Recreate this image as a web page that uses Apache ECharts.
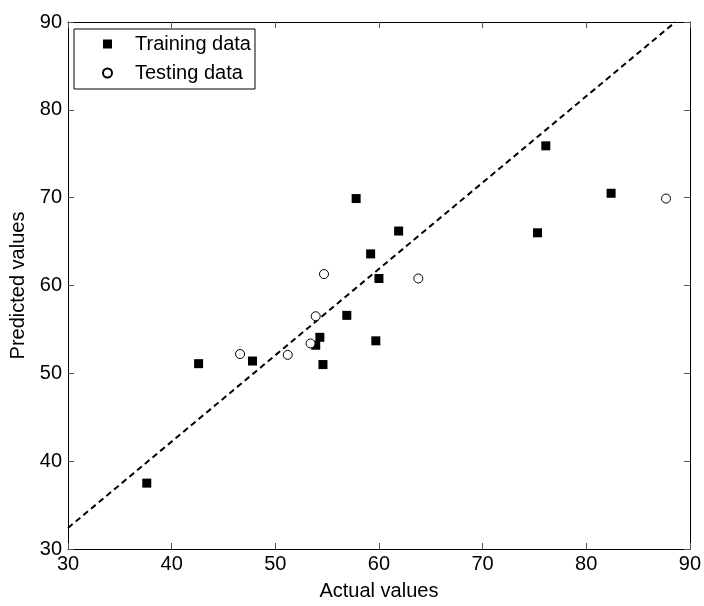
<!DOCTYPE html>
<html><head><meta charset="utf-8">
<script src="https://cdn.jsdelivr.net/npm/echarts@6/dist/echarts.min.js"></script>
<style>html,body{margin:0;padding:0;background:#fff}#c{width:704px;height:606px}</style>
</head><body><div id="c"></div>
<script>
const trainingActual = [37.6, 42.6, 47.8, 53.9, 54.3, 54.6, 56.9, 57.8, 59.2, 59.7, 60.0, 61.9, 75.3, 76.1, 82.4];
const trainingPred   = [37.5, 51.1, 51.4, 53.2, 54.1, 51.0, 56.6, 69.9, 63.6, 53.7, 60.8, 66.2, 66.0, 75.9, 70.5];
const testingActual  = [46.6, 51.2, 53.4, 53.9, 54.7, 63.8, 87.7];
const testingPred    = [52.2, 52.1, 53.4, 56.5, 61.3, 60.8, 69.9];
const fitLineX = [30, 88.6];
const fitLineY = [32.4, 90];
const xTicks = [30, 40, 50, 60, 70, 80, 90];
const yTicks = [30, 40, 50, 60, 70, 80, 90];

const FONT = 'Liberation Sans';
const FS = 20;
const zip = (a, b) => a.map((v, i) => [v, b[i]]);

const chart = echarts.init(document.getElementById('c'), null, {renderer: 'canvas'});
const axisCommon = {
  min: xTicks[0], max: xTicks[xTicks.length - 1], interval: xTicks[1] - xTicks[0],
  axisLine: {show: true, onZero: false, lineStyle: {color: '#000', width: 1}},
  axisTick: {show: true, inside: true, length: 6, lineStyle: {color: '#555'}},
  splitLine: {show: false}
};
chart.setOption({
  animation: false,
  backgroundColor: '#fff',
  textStyle: {fontFamily: FONT},
  grid: {left: 68, right: 14, top: 22, bottom: 48, containLabel: false},
  legend: {
    data: ['Training data', 'Testing data'],
    orient: 'vertical', left: 74, top: 29,
    itemWidth: 9, itemHeight: 9, itemGap: 9,
    padding: [5, 4, 6, 28],
    borderColor: '#000', borderWidth: 1,
    backgroundColor: '#fff',
    textStyle: {fontFamily: FONT, fontSize: FS, color: '#000', padding: [0, 0, 0, 18], lineHeight: 20}
  },
  xAxis: [
    Object.assign({}, axisCommon, {
      type: 'value', position: 'bottom',
      name: 'Actual values', nameLocation: 'middle', nameGap: 32,
      nameTextStyle: {fontFamily: FONT, fontSize: FS, color: '#000'},
      axisLabel: {fontFamily: FONT, fontSize: FS, color: '#000', margin: 5}
    }),
    Object.assign({}, axisCommon, {type: 'value', position: 'top', axisLabel: {show: false}})
  ],
  yAxis: [
    Object.assign({}, axisCommon, {
      type: 'value', position: 'left',
      min: yTicks[0], max: yTicks[yTicks.length - 1], interval: yTicks[1] - yTicks[0],
      name: 'Predicted values', nameLocation: 'middle', nameGap: 38, nameRotate: 90,
      nameTextStyle: {fontFamily: FONT, fontSize: FS, color: '#000'},
      axisLabel: {fontFamily: FONT, fontSize: FS, color: '#000', margin: 6}
    }),
    Object.assign({}, axisCommon, {
      type: 'value', position: 'right',
      min: yTicks[0], max: yTicks[yTicks.length - 1], interval: yTicks[1] - yTicks[0],
      axisLabel: {show: false}
    })
  ],
  series: [
    {
      name: 'Fit', type: 'line', data: zip(fitLineX, fitLineY),
      symbol: 'none', silent: true,
      lineStyle: {color: '#000', width: 2, type: [6, 4]}, z: 1
    },
    {
      name: 'Training data', type: 'scatter', data: zip(trainingActual, trainingPred),
      symbol: 'rect', symbolSize: 9,
      itemStyle: {color: '#000', opacity: 1}, z: 3
    },
    {
      name: 'Testing data', type: 'scatter', data: zip(testingActual, testingPred),
      symbol: 'circle', symbolSize: 9,
      itemStyle: {color: '#fff', borderColor: '#000', borderWidth: 1, opacity: 1}, z: 3
    }
  ]
});
</script>
</body></html>
